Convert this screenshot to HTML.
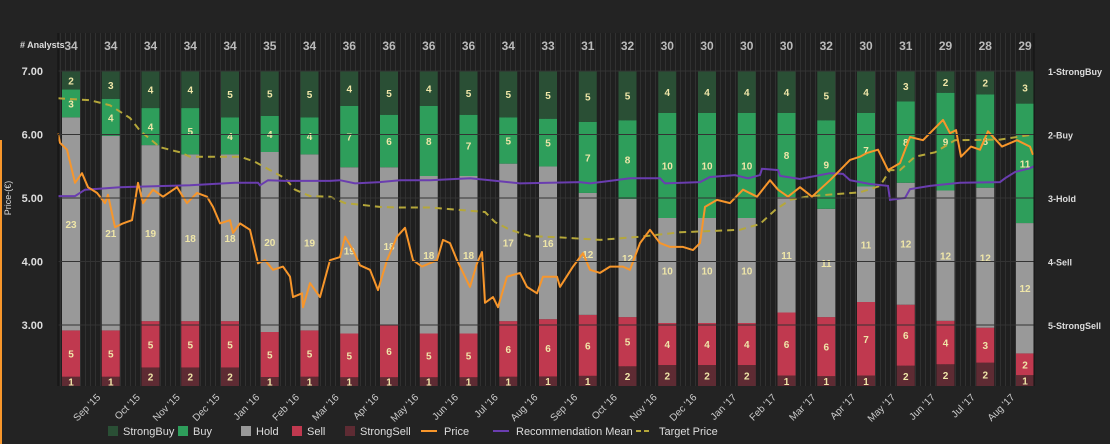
<!DOCTYPE html>
<html><head><meta charset="utf-8"><style>
html,body{margin:0;padding:0;background:#232323;}
svg{display:block;font-family:"Liberation Sans",sans-serif;}
</style></head><body>
<svg id="chart" width="1110" height="444">
<defs>
<pattern id="stripes" width="5" height="10" patternUnits="userSpaceOnUse">
<rect width="5" height="10" fill="#1f1f1f"/><rect width="1" height="10" fill="#303030"/>
</pattern>
</defs>
<rect width="1110" height="444" fill="#232323"/>
<rect x="0" y="140" width="2" height="304" fill="#f7962b"/>
<rect x="58" y="33" width="976" height="353" fill="url(#stripes)"/>
<g id="bars"></g><g id="lines"></g><g id="axes"></g><g id="legend"></g>
</svg>
<script>
const analysts=[34,34,34,34,34,35,34,36,36,36,36,34,33,31,32,30,30,30,30,32,30,31,29,28,29];
const strongBuy=[2,3,4,4,5,5,5,4,5,4,5,5,5,5,5,4,4,4,4,5,4,3,2,2,3];
const buy=[3,4,4,5,4,4,4,7,6,8,7,5,5,7,8,10,10,10,8,9,7,8,9,8,11];
const hold=[23,21,19,18,18,20,19,19,18,18,18,17,16,12,12,10,10,10,11,11,11,12,12,12,12];
const sell=[5,5,5,5,5,5,5,5,6,5,5,6,6,6,5,4,4,4,6,6,7,6,4,3,2];
const strongSell=[1,1,2,2,2,1,1,1,1,1,1,1,1,1,2,2,2,2,1,1,1,2,2,2,1];
const months=["Sep '15","Oct '15","Nov '15","Dec '15","Jan '16","Feb '16","Mar '16","Apr '16","May '16","Jun '16","Jul '16","Aug '16","Sep '16","Oct '16","Nov '16","Dec '16","Jan '17","Feb '17","Mar '17","Apr '17","May '17","Jun '17","Jul '17","Aug '17"];
const priceTicks=[7,6,5,4,3];
const ratingTicks=["1-StrongBuy","2-Buy","3-Hold","4-Sell","5-StrongSell"];
const priceT=[0,0.2,0.9,1.7,2.4,3,3.9,4.7,5,5.7,6.5,7.4,8,8.5,9.5,10.5,11.9,12.9,13.9,14.9,15.5,16.2,17.2,17.5,18.2,19.2,20,20.7,21.5,22.5,23.2,23.5,24.4,24.5,25.2,26.2,27.2,28.2,28.7,29.5,30.2,31.2,32.0,32.9,33.9,34.7,35.5,36.4,37.9,38.5,39.2,39.9,41.2,41.9,42.4,42.7,43.5,44,44.9,46.2,46.9,47.9,48.5,49.9,50.2,51.5,52.5,53.2,54.2,55.2,56.5,57.2,58.2,59.2,60.2,61.2,62.5,63.5,64.2,64.7,65.9,67.2,68.5,69.9,71.2,72,73,74.2,75.4,77.2,77.9,79.2,80.2,80.9,82,83,84.2,85.2,86.5,88.5,89.2,89.8,90.3,91.3,92.2,93,94.4,95.9,97.2,97.5];
const price=[6.02,5.87,5.76,5.24,5.39,5.17,5.08,4.92,5.05,4.54,4.6,4.65,5.24,4.92,5.13,5.02,5.17,4.92,5.08,5.02,4.86,4.6,4.65,4.45,4.6,4.5,3.97,4.02,3.87,3.92,3.76,3.44,3.5,3.28,3.66,3.44,4.02,4.07,4.39,4.18,3.94,3.87,3.55,4.02,4.39,4.53,4.02,3.92,4.02,4.34,4.29,4.02,3.6,3.97,4.15,3.35,3.44,3.28,3.76,3.82,3.6,3.5,3.76,3.76,3.6,3.92,4.13,3.87,3.82,3.92,3.92,3.87,4.29,4.5,4.29,4.23,4.23,4.18,4.29,4.86,4.97,4.92,5.13,5.02,5.28,5.13,5.02,5.17,5.02,5.28,5.39,5.6,5.65,5.71,5.76,5.44,5.55,5.96,5.91,6.23,6.02,6.07,5.65,5.81,5.76,6.05,5.81,5.91,5.81,5.68,5.84,5.87,5.65];
const meanT=[0,1.7,2.7,6.2,13.2,17.7,20,20.2,21,22.7,27.2,28.2,29.7,32.2,34.2,37.2,41.2,43.2,46.2,52.2,53.2,55.2,57.2,60.2,60.7,64.2,65.2,67.7,69,70.2,70.4,72,72.2,74.2,75.2,77.2,78.5,79.2,81.2,83,83.2,84.7,85.2,87.2,90.2,94.2,94.7,95.7,97.2,97.6];
const mean=[2.97,2.97,2.87,2.83,2.80,2.76,2.76,2.80,2.72,2.73,2.73,2.72,2.77,2.75,2.72,2.72,2.69,2.72,2.77,2.75,2.77,2.73,2.69,2.69,2.77,2.75,2.67,2.64,2.69,2.64,2.54,2.56,2.65,2.70,2.67,2.61,2.62,2.72,2.78,2.81,3.03,3.0,2.86,2.81,2.76,2.75,2.69,2.59,2.53,2.50];
const targetT=[0,3.2,5.2,7.2,8.2,10.2,12.2,13.2,18.2,19.7,21.2,22.7,23.7,25.2,27.2,28.7,32.2,34.2,37.2,42.7,43.7,45.2,47.2,50.2,54.2,58.2,62.2,68.2,70.2,71.7,73.2,75.2,80.2,82.2,83.2,84.2,85.7,87.7,89.7,94.2,97.5];
const target=[6.57,6.54,6.46,6.26,6.06,5.8,5.72,5.65,5.65,5.57,5.44,5.31,5.13,5.03,5.02,4.92,4.86,4.85,4.85,4.78,4.62,4.5,4.4,4.38,4.34,4.39,4.46,4.5,4.59,4.81,4.97,5.03,5.09,5.19,5.44,5.44,5.65,5.72,5.91,5.92,6.0];

const NS="http://www.w3.org/2000/svg";
const plotL=58,plotR=1034,plotTop=71,plotBot=386;
const yP=v=>71+(7-v)*63.5;
const yR=r=>71+(r-1)*63.5;
const xT=t=>plotL+t*10;
const xBar=i=>71+i*39.75;
function mk(tag,attrs,parent){const e=document.createElementNS(NS,tag);for(const k in attrs)e.setAttribute(k,attrs[k]);parent.appendChild(e);return e;}
const gB=document.getElementById('bars'),gL=document.getElementById('lines'),gA=document.getElementById('axes'),gLg=document.getElementById('legend');

priceTicks.forEach(v=>{const l=mk('line',{x1:plotL,x2:plotR,y1:yP(v),y2:yP(v),stroke:'#333','stroke-width':1},gA);

});

const segs=[["strong-sell",strongSell,"#5e2b33"],["sell",sell,"#c0394f"],["hold",hold,"#999999"],["buy",buy,"#2e9e5b"],["strong-buy",strongBuy,"#2a4f35"]];
analysts.forEach((n,i)=>{
 const tot=strongBuy[i]+buy[i]+hold[i]+sell[i]+strongSell[i];
 let acc=0;const cx=xBar(i);
 segs.forEach(([nm,arr,col])=>{
  const v=arr[i];const y1=plotBot-(acc+v)/tot*(plotBot-plotTop),y0=plotBot-acc/tot*(plotBot-plotTop);
  const r=mk('rect',{x:cx-9,y:y1,width:18,height:y0-y1,fill:col},gB);
  
  
  const t=mk('text',{x:cx,y:(y0+y1)/2+4,'text-anchor':'middle','font-size':10,'font-weight':'bold',fill:'#efe6a8'},gB);
  t.textContent=v;
  
  
  acc+=v;
 });
 const c=mk('text',{x:cx,y:50,'text-anchor':'middle','font-size':12,'font-weight':'bold',fill:'#bbbbbb'},gA);
 c.textContent=n;
 
 
});

function path(ts,vs,yf){return ts.map((t,i)=>(i?'L':'M')+xT(t).toFixed(1)+','+yf(vs[i]).toFixed(1)).join('');}
const tp=mk('path',{d:path(targetT,target,yP),fill:'none',stroke:'#b5a73a','stroke-width':2,'stroke-dasharray':'7,5'},gL);


const mp=mk('path',{d:path(meanT,mean,yR),fill:'none',stroke:'#6a3db0','stroke-width':2},gL);


const pp=mk('path',{d:path(priceT,price,yP),fill:'none',stroke:'#f7962b','stroke-width':2,'stroke-linejoin':'round'},gL);



mk('line',{x1:plotL,x2:plotL,y1:33,y2:386,stroke:'#111','stroke-width':1},gA);
mk('line',{x1:plotR,x2:plotR,y1:33,y2:386,stroke:'#111','stroke-width':1},gA);
const ah=mk('text',{x:20,y:48,'font-size':9,'font-weight':'bold',fill:'#dddddd'},gA);ah.textContent='# Analysts';


priceTicks.forEach(v=>{const t=mk('text',{x:43,y:yP(v)+4,'text-anchor':'end','font-size':11,'font-weight':'bold',fill:'#dddddd'},gA);t.textContent=v.toFixed(2);

});
const yt=mk('text',{x:0,y:0,'font-size':9,fill:'#dddddd','text-anchor':'middle',transform:'translate(11,198) rotate(-90)'},gA);yt.textContent='Price-(€)';


ratingTicks.forEach((s,i)=>{const t=mk('text',{x:1048,y:yR(i+1)+4,'font-size':9,'font-weight':'bold',fill:'#dddddd'},gA);t.textContent=s;

});
months.forEach((m,i)=>{const x=101+i*39.75;const t=mk('text',{x:x,y:398,'text-anchor':'end','font-size':10,fill:'#cccccc',transform:`rotate(-45 ${x} 398)`},gA);t.textContent=m;

});

const leg=[["StrongBuy",108,"sq","#2a4f35"],["Buy",178,"sq","#2e9e5b"],["Hold",241,"sq","#999999"],["Sell",292,"sq","#c0394f"],["StrongSell",345,"sq","#5e2b33"],["Price",425,"ln","#f7962b"],["Recommendation Mean",497,"ln","#6a3db0"],["Target Price",640,"dash","#b5a73a"]];
leg.forEach(([n,x,k,c])=>{
 const g=mk('g',{},gLg);
 
 
 if(k==='sq'){mk('rect',{x:x,y:426,width:10,height:10,fill:c},g);}
 else if(k==='ln'){mk('line',{x1:x-4,x2:x+12,y1:431,y2:431,stroke:c,'stroke-width':2},g);}
 else{mk('line',{x1:x-4,x2:x+12,y1:431,y2:431,stroke:c,'stroke-width':2,'stroke-dasharray':'5,3'},g);}
 const t=mk('text',{x:x+(k==='sq'?15:19),y:435,'font-size':11,fill:'#dddddd'},g);t.textContent=n;
});
</script>
</body></html>
